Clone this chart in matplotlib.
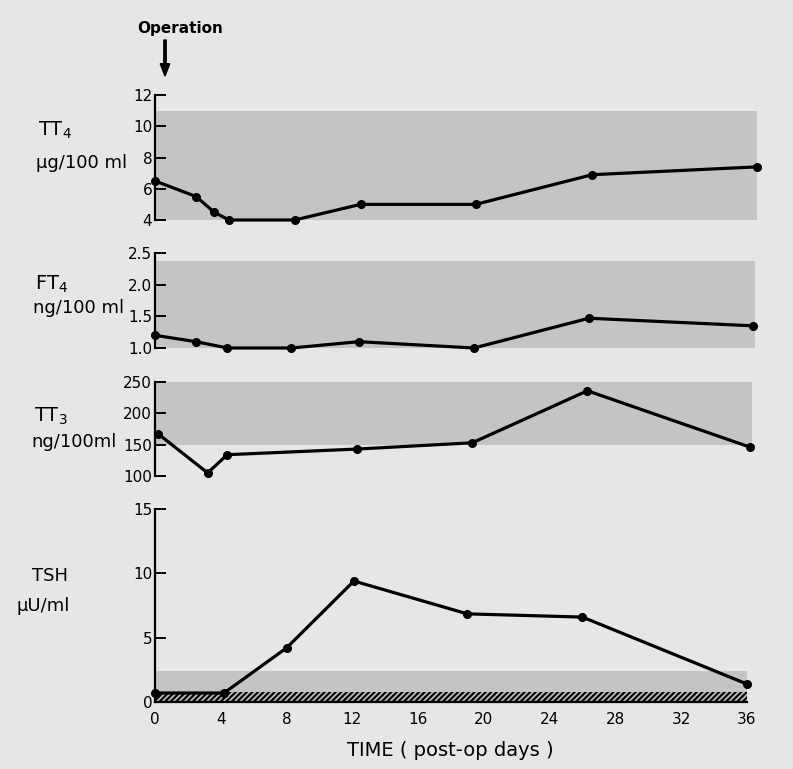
import matplotlib.pyplot as plt
import numpy as np

# post-op day of each sample
tt4_days = [0, 2.5, 3.6, 4.5, 8.5, 12.5, 19.5, 26.6, 36.6]
tt4_vals = [6.5, 5.5, 4.5, 4.0, 4.0, 5.0, 5.0, 6.9, 7.4]

ft4_days = [0, 2.5, 4.4, 8.3, 12.4, 19.4, 26.4, 36.4]
ft4_vals = [1.2, 1.1, 1.0, 1.0, 1.1, 1.0, 1.47, 1.35]

tt3_days = [0.2, 3.2, 4.4, 12.3, 19.3, 26.3, 36.2]
tt3_vals = [167, 105, 134, 143, 153, 236, 146]

tsh_days = [0, 4.2, 8.0, 12.1, 19.0, 26.0, 36.0]
tsh_vals = [0.7, 0.7, 4.2, 9.4, 6.85, 6.6, 1.4]

# normal ranges (shaded bands)
tt4_norm = (4, 11)
ft4_norm = (1.0, 2.37)
tt3_norm = (150, 250)
tsh_norm = (0, 2.4)
tsh_undet = (0, 0.8)

xticks = [0, 4, 8, 12, 16, 20, 24, 28, 32, 36]

paper = '#e6e6e6'
band = '#c4c4c4'
plt.rcParams['hatch.linewidth'] = 1.6

fig = plt.figure(figsize=(7.93, 7.69), dpi=100, facecolor=paper)

W, H = 793.0, 769.0
x0 = 155
xmax = (765 - 155) / 16.44

def make_ax(top, bottom):
    ax = fig.add_axes([x0 / W, 1 - bottom / H, (765 - x0) / W, (bottom - top) / H])
    ax.set_facecolor('none')
    for s in ['top', 'right', 'bottom']:
        ax.spines[s].set_visible(False)
    ax.spines['left'].set_linewidth(1.6)
    ax.set_xlim(0, xmax)
    ax.tick_params(axis='y', direction='in', length=8, width=1.4, labelsize=11, pad=2)
    ax.tick_params(axis='x', length=0)
    ax.set_xticks([])
    return ax

def plot_series(ax, d, v):
    ax.plot(d, v, color='black', lw=2.3, marker='o', ms=5.5, clip_on=False, zorder=5)

# TT4
ax1 = make_ax(95, 220)
ax1.set_ylim(4, 12)
ax1.set_yticks([4, 6, 8, 10, 12])
ax1.fill_between([0, 36.6], tt4_norm[0], tt4_norm[1], color=band, lw=0)
plot_series(ax1, tt4_days, tt4_vals)

# FT4
ax2 = make_ax(253, 348)
ax2.set_ylim(1.0, 2.5)
ax2.set_yticks([1.0, 1.5, 2.0, 2.5])
ax2.set_yticklabels(['1.0', '1.5', '2.0', '2.5'])
ax2.fill_between([0, 36.5], ft4_norm[0], ft4_norm[1], color=band, lw=0)
plot_series(ax2, ft4_days, ft4_vals)

# TT3
ax3 = make_ax(382, 476)
ax3.set_ylim(100, 250)
ax3.set_yticks([100, 150, 200, 250])
ax3.fill_between([0, 36.3], tt3_norm[0], tt3_norm[1], color=band, lw=0)
plot_series(ax3, tt3_days, tt3_vals)

# TSH
ax4 = make_ax(509, 702)
ax4.set_ylim(0, 15)
ax4.set_yticks([0, 5, 10, 15])
ax4.fill_between([0, 36], tsh_norm[0], tsh_norm[1], color=band, lw=0)
ax4.fill_between([0, 36], tsh_undet[0], tsh_undet[1], facecolor='none',
                 edgecolor='black', hatch='//////', lw=0)
ax4.plot([0, 36], [0, 0], color='black', lw=1.6, clip_on=False)
plot_series(ax4, tsh_days, tsh_vals)
ax4.set_xticks(xticks)
ax4.set_xticklabels([str(t) for t in xticks], fontsize=11)
ax4.tick_params(axis='x', length=0, pad=7)

# left-hand labels
lab = dict(fontsize=13, color='black', ha='left', va='center')
fig.text(38 / W, 1 - 130 / H, r'TT$_\mathregular{4}$', fontsize=14, ha='left', va='center')
fig.text(36 / W, 1 - 163 / H, 'µg/100 ml', **lab)
fig.text(35 / W, 1 - 284 / H, r'FT$_\mathregular{4}$', fontsize=14, ha='left', va='center')
fig.text(33 / W, 1 - 308 / H, 'ng/100 ml', **lab)
fig.text(34 / W, 1 - 416 / H, r'TT$_\mathregular{3}$', fontsize=14, ha='left', va='center')
fig.text(31 / W, 1 - 442 / H, 'ng/100ml', **lab)
fig.text(32 / W, 1 - 576 / H, 'TSH', **lab)
fig.text(17 / W, 1 - 606 / H, 'µU/ml', **lab)

# operation marker
fig.text(180 / W, 1 - 28 / H, 'Operation', fontsize=11, fontweight='bold',
         ha='center', va='center')
fig.patches.append(plt.matplotlib.patches.FancyArrow(
    165 / W, 1 - 40 / H, 0, -36 / H, width=0.003, head_width=0.012,
    head_length=0.016, length_includes_head=True, color='black',
    transform=fig.transFigure, figure=fig))

fig.text(450 / W, 1 - 750 / H, 'TIME ( post-op days )', fontsize=14,
         ha='center', va='center')

plt.savefig('out.png', dpi=100, facecolor=paper)
